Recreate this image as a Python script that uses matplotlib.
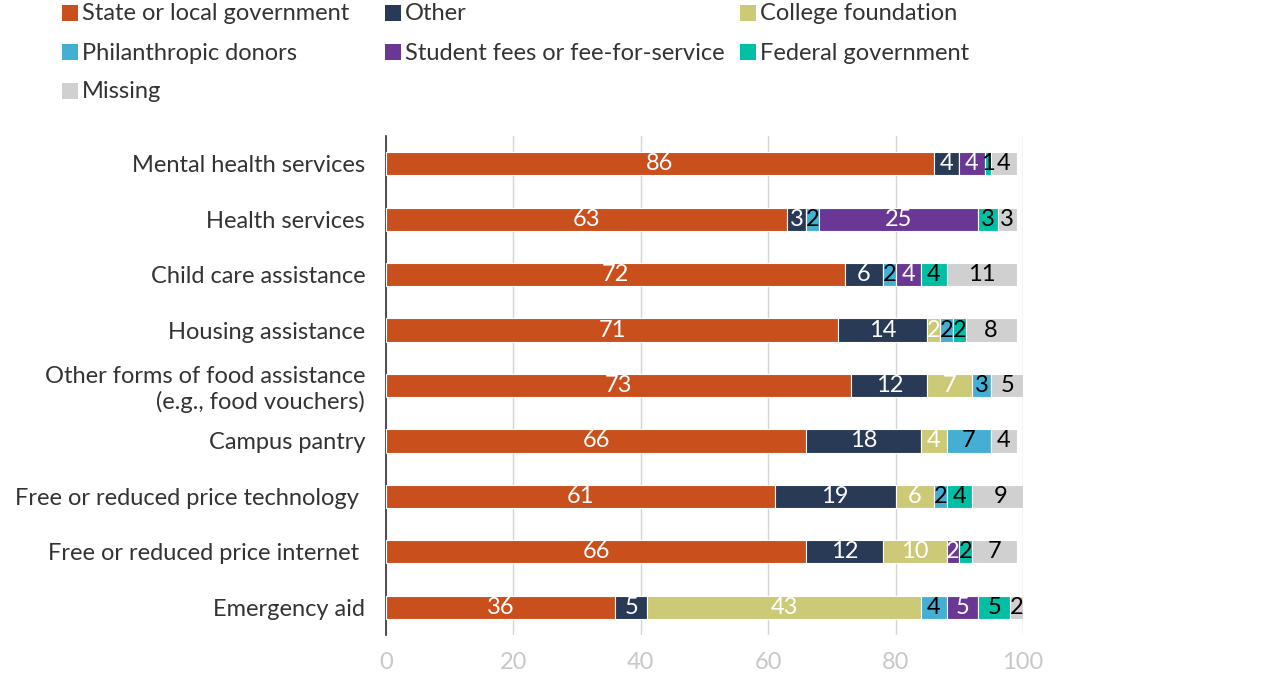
import matplotlib
matplotlib.use("Agg")
import matplotlib.pyplot as plt
from matplotlib.patches import Rectangle
import numpy as np

plt.rcParams['font.family'] = ['Lato', 'DejaVu Sans']

categories = [
    "Mental health services",
    "Health services",
    "Child care assistance",
    "Housing assistance",
    "Other forms of food assistance\n(e.g., food vouchers)",
    "Campus pantry",
    "Free or reduced price technology ",
    "Free or reduced price internet ",
    "Emergency aid",
]

series_names = [
    "State or local government",
    "Other",
    "College foundation",
    "Philanthropic donors",
    "Student fees or fee-for-service",
    "Federal government",
    "Missing",
]

state_local = [86, 63, 72, 71, 73, 66, 61, 66, 36]
other = [4, 3, 6, 14, 12, 18, 19, 12, 5]
college_foundation = [0, 0, 0, 2, 7, 4, 6, 10, 43]
philanthropic = [0, 2, 2, 2, 3, 7, 2, 0, 4]
student_fees = [4, 25, 4, 0, 0, 0, 0, 2, 5]
federal = [1, 3, 4, 2, 0, 0, 4, 2, 5]
missing = [4, 3, 11, 8, 5, 4, 9, 7, 2]

series_values = [state_local, other, college_foundation, philanthropic,
                 student_fees, federal, missing]
colors = ["#C94F1C", "#283A55", "#CCCA77", "#45AFD3", "#6A3894", "#00BFA4", "#D0D0D0"]
text_colors = ["white", "white", "white", "black", "white", "black", "black"]

xticks = [0, 20, 40, 60, 80, 100]

W, H = 1280, 680
FS = 17
fig = plt.figure(figsize=(12.8, 6.8), dpi=100)
ax = fig.add_axes([386 / W, 1 - 635 / H, (1023 - 386) / W, (635 - 136) / H])

y = np.arange(len(categories))
left = np.zeros(len(categories))
for vals, col, tcol in zip(series_values, colors, text_colors):
    vals = np.array(vals, dtype=float)
    ax.barh(y, vals, left=left, height=0.42, color=col, edgecolor="white",
            linewidth=0.8, zorder=3)
    for yi, v, l in zip(y, vals, left):
        if v > 0:
            ax.text(l + v / 2, yi, f"{int(v)}", ha="center", va="center",
                    color=tcol, fontsize=FS, zorder=4)
    left += vals

ax.set_xlim(0, 100)
ax.set_ylim(len(categories) - 0.5, -0.5)
ax.set_yticks(y)
ax.set_yticklabels(categories, fontsize=FS, color="#333333")
ax.set_xticks(xticks)
ax.set_xticklabels([str(t) for t in xticks], fontsize=FS, color="#C8C8C8")
ax.tick_params(axis="y", length=0, pad=15)
ax.tick_params(axis="x", length=0, pad=12)
ax.grid(axis="x", color="#D5D5D5", linewidth=1, zorder=0)
for s in ["top", "right", "bottom"]:
    ax.spines[s].set_visible(False)
ax.spines["left"].set_color("#333333")
ax.spines["left"].set_linewidth(1.2)

# legend, laid out in rows of three
col_x = [62, 385, 740]
row_y = [13, 52, 91]
for i, (name, col) in enumerate(zip(series_names, colors)):
    cx = col_x[i % 3]
    cy = row_y[i // 3]
    fig.patches.append(Rectangle((cx / W, 1 - (cy + 8) / H), 16 / W, 16 / H,
                                 transform=fig.transFigure, facecolor=col,
                                 edgecolor="none"))
    fig.text((cx + 20) / W, 1 - (cy + 1) / H, name, ha="left", va="center",
             fontsize=FS, color="#333333")

fig.savefig("out.png", dpi=100)
